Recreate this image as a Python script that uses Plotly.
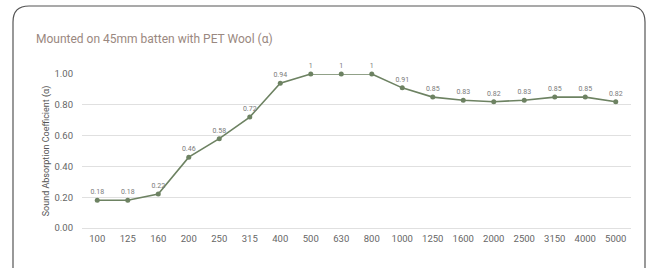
import plotly.graph_objects as go

freqs = ["100", "125", "160", "200", "250", "315", "400", "500", "630", "800",
         "1000", "1250", "1600", "2000", "2500", "3150", "4000", "5000"]
alpha = [0.18, 0.18, 0.22, 0.46, 0.58, 0.72, 0.94, 1, 1, 1,
         0.91, 0.85, 0.83, 0.82, 0.83, 0.85, 0.85, 0.82]
labels = ["0.18", "0.18", "0.22", "0.46", "0.58", "0.72", "0.94", "1", "1", "1",
          "0.91", "0.85", "0.83", "0.82", "0.83", "0.85", "0.85", "0.82"]
y_ticks = [0, 0.2, 0.4, 0.6, 0.8, 1.0]

W, H = 651, 269
L, R, T, B = 82, 20, 74, 41
pw, ph = W - L - R, H - T - B

def px(x):
    return (x - L) / pw

def py(y):
    return (H - B - y) / ph

fig = go.Figure()
fig.add_trace(go.Scatter(
    x=freqs, y=alpha, mode="lines+markers+text",
    text=labels, textposition="top center",
    textfont=dict(size=7, color="#7a7a7a", family="Roboto"),
    line=dict(color="#6d8262", width=1.6),
    marker=dict(color="#6d8262", size=5),
    cliponaxis=False, hoverinfo="skip",
))

# rounded card border
x0, x1, y0, y1, r = 13, 645, 6, 268, 16
path = (f"M {px(x0)},{py(y1)} L {px(x0)},{py(y0 + r)} "
        f"Q {px(x0)},{py(y0)} {px(x0 + r)},{py(y0)} "
        f"L {px(x1 - r)},{py(y0)} Q {px(x1)},{py(y0)} {px(x1)},{py(y0 + r)} "
        f"L {px(x1)},{py(y1)}")
fig.add_shape(type="path", path=path, xref="paper", yref="paper",
              line=dict(color="#555555", width=1.2), layer="below")

fig.add_annotation(text="Mounted on 45mm batten with PET Wool (α)",
                   xref="paper", yref="paper", x=px(34), y=py(39),
                   xanchor="left", yanchor="middle", showarrow=False,
                   font=dict(size=12, color="#9a8880", family="Roboto"))

fig.update_layout(
    width=W, height=H,
    margin=dict(l=L, r=R, t=T, b=B, autoexpand=False),
    paper_bgcolor="white", plot_bgcolor="white",
    showlegend=False,
    font=dict(family="Roboto", color="#666666"),
)
fig.update_xaxes(type="category", range=[-0.5, len(freqs) - 0.5],
                 showgrid=False, showline=False, ticks="", ticklen=0,
                 automargin=False, ticklabelstandoff=3,
                 tickfont=dict(size=9.5, color="#666666"))
fig.update_yaxes(range=[0, 1.0], tickvals=y_ticks, tickformat=".2f",
                 automargin=False,
                 showgrid=True, gridcolor="#e0e0e0", gridwidth=1,
                 zeroline=True, zerolinecolor="#e0e0e0", zerolinewidth=1,
                 showline=False, ticks="", ticklen=0, ticklabelstandoff=8,
                 tickfont=dict(size=9.5, color="#666666"),
                 title=dict(text="Sound Absorption Coefficient (α)",
                            font=dict(size=9, color="#555555", family="Roboto"),
                            standoff=3))

fig.write_html("out.html", config={"displayModeBar": False},
               post_script="document.body.style.margin='0';document.body.style.overflow='hidden';")
